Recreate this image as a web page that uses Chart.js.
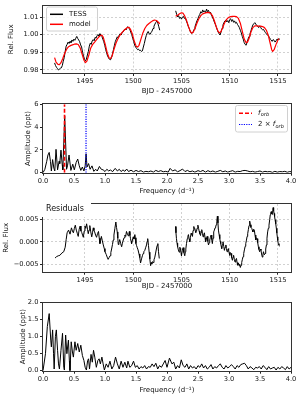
<!DOCTYPE html>
<html><head><meta charset="utf-8">
<script src="https://cdn.jsdelivr.net/npm/chart.js@4.4.0/dist/chart.umd.min.js"></script>
<style>
html,body{margin:0;padding:0;background:#fff;}
#wrap{position:relative;width:300px;height:400px;overflow:hidden;background:#fff;}
#wrap canvas{position:absolute;left:0;top:0;width:300px;height:400px;}
</style></head><body>
<div id="wrap">
<canvas id="c1" width="300" height="400"></canvas>
<canvas id="c2" width="300" height="400"></canvas>
<canvas id="c3" width="300" height="400"></canvas>
<canvas id="c4" width="300" height="400"></canvas>
</div>
<script>
// ---------------- DATA ----------------
const tessT1 = [1491.85,1491.95,1492.05,1492.15,1492.25,1492.35,1492.45,1492.55,1492.65,1492.75,1492.85,1492.95,1493.05,1493.15,1493.25,1493.35,1493.45,1493.55,1493.65,1493.75,1493.85,1493.95,1494.05,1494.15,1494.25,1494.35,1494.45,1494.55,1494.65,1494.75,1494.85,1494.95,1495.05,1495.15,1495.25,1495.35,1495.45,1495.55,1495.65,1495.75,1495.85,1495.95,1496.05,1496.15,1496.25,1496.35,1496.45,1496.55,1496.65,1496.75,1496.85,1496.95,1497.05,1497.15,1497.25,1497.35,1497.45,1497.55,1497.65,1497.75,1497.85,1497.95,1498.05,1498.15,1498.25,1498.35,1498.45,1498.55,1498.65,1498.75,1498.85,1498.95,1499.05,1499.15,1499.25,1499.35,1499.45,1499.55,1499.65,1499.75,1499.85,1499.95,1500.05,1500.15,1500.25,1500.35,1500.45,1500.55,1500.65,1500.75,1500.85,1500.95,1501.05,1501.15,1501.25,1501.35,1501.45,1501.55,1501.65,1501.75,1501.85,1501.95,1502.05,1502.15,1502.25,1502.35,1502.45,1502.55,1502.65,1502.75];
const tessF1 = [0.9840,0.9825,0.9815,0.9808,0.9800,0.9805,0.9810,0.9812,0.9825,0.9850,0.9870,0.9905,0.9935,0.9945,0.9958,0.9950,0.9962,0.9955,0.9970,0.9962,0.9975,0.9968,0.9980,0.9990,0.9978,0.9970,0.9960,0.9942,0.9930,0.9900,0.9880,0.9860,0.9852,0.9862,0.9885,0.9905,0.9935,0.9952,0.9945,0.9965,0.9972,0.9965,0.9985,0.9980,0.9995,1.0000,0.9992,1.0006,0.9998,0.9990,0.9975,0.9960,0.9940,0.9915,0.9895,0.9878,0.9868,0.9860,0.9858,0.9870,0.9890,0.9915,0.9940,0.9962,0.9975,0.9988,0.9980,0.9998,1.0005,0.9998,1.0012,1.0015,1.0025,1.0032,1.0028,1.0040,1.0045,1.0035,1.0030,1.0012,1.0000,0.9978,0.9962,0.9940,0.9930,0.9922,0.9915,0.9918,0.9910,0.9912,0.9905,0.9908,0.9930,0.9950,0.9975,0.9995,1.0010,1.0018,1.0005,1.0002,1.0012,1.0020,1.0035,1.0048,1.0060,1.0070,1.0078,1.0065,1.0045,1.0025];
const tessT2 = [1504.40,1504.50,1504.60,1504.70,1504.80,1504.90,1505.00,1505.10,1505.20,1505.30,1505.40,1505.50,1505.60,1505.70,1505.80,1505.90,1506.00,1506.10,1506.20,1506.30,1506.40,1506.50,1506.60,1506.70,1506.80,1506.90,1507.00,1507.10,1507.20,1507.30,1507.40,1507.50,1507.60,1507.70,1507.80,1507.90,1508.00,1508.10,1508.20,1508.30,1508.40,1508.50,1508.60,1508.70,1508.80,1508.90,1509.00,1509.10,1509.20,1509.30,1509.40,1509.50,1509.60,1509.70,1509.80,1509.90,1510.00,1510.10,1510.20,1510.30,1510.40,1510.50,1510.60,1510.70,1510.80,1510.90,1511.00,1511.10,1511.20,1511.30,1511.40,1511.50,1511.60,1511.70,1511.80,1511.90,1512.00,1512.10,1512.20,1512.30,1512.40,1512.50,1512.60,1512.70,1512.80,1512.90,1513.00,1513.10,1513.20,1513.30,1513.40,1513.50,1513.60,1513.70,1513.80,1513.90,1514.00,1514.10,1514.20,1514.30,1514.40,1514.50,1514.60,1514.70,1514.80,1514.90,1515.00,1515.10,1515.15];
const tessF2 = [1.0135,1.0115,1.0100,1.0108,1.0092,1.0098,1.0088,1.0100,1.0104,1.0092,1.0095,1.0078,1.0065,1.0048,1.0035,1.0020,1.0010,1.0008,1.0015,1.0030,1.0045,1.0062,1.0078,1.0090,1.0105,1.0115,1.0130,1.0122,1.0140,1.0128,1.0135,1.0125,1.0145,1.0130,1.0138,1.0122,1.0128,1.0112,1.0100,1.0088,1.0072,1.0060,1.0045,1.0028,1.0015,1.0005,0.9998,1.0015,1.0035,1.0055,1.0068,1.0078,1.0082,1.0072,1.0080,1.0068,1.0085,1.0090,1.0075,1.0085,1.0070,1.0078,1.0065,1.0070,1.0058,1.0050,1.0040,1.0025,1.0010,0.9990,0.9975,0.9955,0.9945,0.9940,0.9958,0.9975,0.9990,1.0005,1.0022,1.0040,1.0055,1.0062,1.0068,1.0060,1.0052,1.0048,1.0040,1.0050,1.0042,1.0032,1.0028,1.0030,1.0020,1.0012,1.0005,0.9998,0.9995,0.9985,0.9975,0.9970,0.9962,0.9972,0.9968,0.9958,0.9965,0.9975,0.9970,0.9978,0.9972];
const modelT1 = [1491.85,1492.0,1492.2,1492.35,1492.5,1492.7,1492.9,1493.1,1493.3,1493.5,1493.7,1493.9,1494.1,1494.3,1494.5,1494.7,1494.9,1495.05,1495.2,1495.4,1495.6,1495.8,1496.0,1496.2,1496.4,1496.6,1496.75,1496.9,1497.1,1497.3,1497.5,1497.65,1497.8,1498.0,1498.2,1498.4,1498.6,1498.8,1499.0,1499.2,1499.4,1499.55,1499.7,1499.9,1500.1,1500.3,1500.45,1500.6,1500.8,1501.0,1501.2,1501.4,1501.6,1501.8,1502.0,1502.2,1502.4,1502.6,1502.75];
const modelF1 = [0.9870,0.9845,0.9832,0.9830,0.9840,0.9865,0.9895,0.9918,0.9932,0.9938,0.9942,0.9946,0.9948,0.9944,0.9925,0.9890,0.9855,0.9842,0.9850,0.9885,0.9925,0.9945,0.9958,0.9972,0.9985,0.9995,0.9998,0.9985,0.9945,0.9898,0.9868,0.9866,0.9878,0.9915,0.9950,0.9975,0.9995,1.0010,1.0022,1.0032,1.0040,1.0042,1.0032,1.0005,0.9965,0.9935,0.9930,0.9940,0.9975,1.0010,1.0035,1.0052,1.0062,1.0070,1.0078,1.0083,1.0080,1.0070,1.0062];
const modelT2 = [1504.4,1504.6,1504.8,1505.0,1505.15,1505.3,1505.5,1505.7,1505.9,1506.05,1506.2,1506.4,1506.6,1506.8,1507.0,1507.2,1507.4,1507.6,1507.8,1508.0,1508.2,1508.4,1508.6,1508.8,1508.95,1509.1,1509.3,1509.5,1509.7,1509.9,1510.1,1510.3,1510.5,1510.7,1510.9,1511.1,1511.3,1511.5,1511.7,1511.85,1512.0,1512.2,1512.4,1512.6,1512.8,1513.0,1513.2,1513.4,1513.6,1513.8,1514.0,1514.2,1514.35,1514.45,1514.6,1514.8,1515.0,1515.1];
const modelF2 = [1.0105,1.0110,1.0118,1.0124,1.0122,1.0110,1.0085,1.0050,1.0020,1.0008,1.0012,1.0035,1.0065,1.0090,1.0108,1.0118,1.0122,1.0125,1.0126,1.0122,1.0108,1.0080,1.0045,1.0018,1.0010,1.0018,1.0045,1.0070,1.0088,1.0098,1.0102,1.0104,1.0104,1.0102,1.0092,1.0065,1.0020,0.9975,0.9955,0.9958,0.9978,1.0015,1.0040,1.0050,1.0050,1.0048,1.0048,1.0046,1.0040,1.0025,0.9995,0.9950,0.9915,0.9905,0.9915,0.9945,0.9970,0.9978];

const freqTess = [0,0.03,0.06,0.08,0.1,0.12,0.135,0.155,0.175,0.19,0.21,0.235,0.26,0.27,0.29,0.31,0.32,0.335,0.35,0.365,0.38,0.395,0.42,0.45,0.48,0.505,0.535,0.56,0.585,0.61,0.635,0.66,0.68,0.695,0.71,0.735,0.76,0.79,0.82,0.85,0.875,0.91,0.94,0.97,1.0,1.03,1.06,1.09,1.12,1.165,1.2,1.23,1.26,1.29,1.32,1.35,1.38,1.42,1.46,1.5,1.54,1.58,1.62,1.66,1.7,1.74,1.78,1.82,1.86,1.9,1.94,1.98,2.02,2.05,2.09,2.13,2.17,2.21,2.25,2.29,2.33,2.37,2.41,2.45,2.5,2.54,2.58,2.62,2.66,2.7,2.74,2.78,2.82,2.86,2.9,2.94,2.98,3.02,3.06,3.1,3.14,3.18,3.22,3.26,3.3,3.34,3.38,3.42,3.46,3.5,3.54,3.58,3.62,3.66,3.7,3.74,3.78,3.82,3.86,3.9,3.94,3.98,4.0];
const ampTess = [0,0.3,1.0,1.55,1.78,1.0,0.15,1.15,0.4,0.15,2.05,0.25,1.0,0.8,1.98,0.7,0.25,2.6,5.0,2.6,0.3,0.6,1.55,0.2,0.75,0.25,0.9,1.2,0.6,0.2,0.5,0.15,0.6,1.65,0.5,0.8,0.3,0.6,0.12,0.3,0.15,0.55,0.3,0.25,0.1,0.3,0.15,0.25,0.08,0.38,0.15,0.3,0.1,0.25,0.12,0.32,0.1,0.22,0.08,0.2,0.1,0.18,0.05,0.12,0.08,0.15,0.05,0.2,0.1,0.18,0.08,0.12,0.05,0.38,0.15,0.25,0.08,0.18,0.32,0.1,0.2,0.08,0.15,0.05,0.18,0.1,0.2,0.05,0.18,0.08,0.15,0.05,0.12,0.2,0.08,0.15,0.05,0.12,0.18,0.05,0.12,0.1,0.18,0.2,0.15,0.08,0.12,0.05,0.1,0.15,0.05,0.12,0.08,0.1,0.03,0.12,0.05,0.1,0.08,0.12,0.04,0.1,0.08];
const markerFreqs = [0.347, 0.694];
const markerLabels = ['f_orb', '2 \u00d7 f_orb'];

const resT1 = [1491.9,1492.05,1492.24,1492.4,1492.6,1492.8,1492.95,1493.05,1493.15,1493.3,1493.45,1493.6,1493.7,1493.8,1493.9,1494.0,1494.1,1494.2,1494.3,1494.4,1494.5,1494.58,1494.66,1494.75,1494.83,1494.92,1495.0,1495.08,1495.17,1495.26,1495.34,1495.42,1495.5,1495.6,1495.7,1495.78,1495.86,1495.93,1496.0,1496.1,1496.2,1496.3,1496.4,1496.48,1496.55,1496.62,1496.7,1496.8,1496.9,1497.0,1497.07,1497.2,1497.3,1497.4,1497.5,1497.6,1497.68,1497.76,1497.85,1497.93,1498.0,1498.1,1498.2,1498.27,1498.34,1498.4,1498.45,1498.52,1498.6,1498.7,1498.8,1498.88,1498.97,1499.05,1499.14,1499.22,1499.3,1499.4,1499.5,1499.55,1499.6,1499.66,1499.72,1499.78,1499.83,1499.92,1500.0,1500.08,1500.17,1500.22,1500.28,1500.34,1500.4,1500.5,1500.6,1500.68,1500.76,1500.86,1500.95,1501.03,1501.1,1501.2,1501.3,1501.38,1501.44,1501.5,1501.58,1501.65,1501.72,1501.8,1501.87,1501.93,1502.0,1502.07,1502.15,1502.24,1502.32,1502.4,1502.48,1502.55,1502.62,1502.7];
const resF1 = [-0.0036,-0.0033,-0.0031,-0.0030,-0.0025,-0.0022,-0.0012,0.0005,0.0020,0.0026,0.0017,0.0031,0.0024,0.0020,0.0030,0.0037,0.0026,0.0019,0.0012,0.0028,0.0035,0.0024,0.0021,0.0015,0.0010,0.0024,0.0035,0.0030,0.0040,0.0028,0.0018,0.0026,0.0036,0.0022,0.0011,0.0020,0.0031,0.0025,0.0022,0.0015,0.0010,0.0018,0.0023,0.0008,-0.0004,0.0003,0.0012,0.0002,-0.0007,-0.0015,-0.0022,-0.0028,-0.0034,-0.0039,-0.0035,-0.0031,-0.0024,-0.0016,-0.0006,0.0004,0.0015,0.0030,0.0044,0.0032,0.0022,0.0008,-0.0006,-0.0002,0.0005,-0.0004,-0.0011,-0.0003,0.0004,0.0009,0.0015,0.0012,0.0023,0.0017,0.0013,0.0018,0.0023,0.0014,0.0007,0.0001,-0.0004,0.0004,0.0011,0.0006,0.0016,0.0009,-0.0004,-0.0008,-0.0012,-0.0018,-0.0027,-0.0035,-0.0047,-0.0038,-0.0031,-0.0026,-0.0022,-0.0019,-0.0012,-0.0007,0.0001,0.0007,-0.0008,-0.0023,-0.0038,-0.0053,-0.0046,-0.0049,-0.0044,-0.0046,-0.0040,-0.0034,-0.0025,-0.0016,-0.0008,-0.0004,-0.0022,-0.0037];
const resT2 = [1504.38,1504.43,1504.48,1504.54,1504.6,1504.68,1504.76,1504.83,1504.9,1504.96,1505.0,1505.08,1505.17,1505.25,1505.34,1505.4,1505.45,1505.52,1505.6,1505.66,1505.72,1505.8,1505.86,1505.93,1506.0,1506.07,1506.14,1506.2,1506.28,1506.34,1506.4,1506.48,1506.55,1506.62,1506.7,1506.77,1506.83,1506.9,1506.97,1507.03,1507.1,1507.17,1507.24,1507.3,1507.38,1507.44,1507.5,1507.58,1507.66,1507.73,1507.8,1507.87,1507.93,1508.0,1508.07,1508.14,1508.2,1508.27,1508.34,1508.41,1508.48,1508.54,1508.6,1508.66,1508.72,1508.78,1508.83,1508.9,1508.97,1509.02,1509.07,1509.12,1509.17,1509.24,1509.3,1509.38,1509.45,1509.52,1509.6,1509.66,1509.72,1509.8,1509.86,1509.93,1510.0,1510.07,1510.14,1510.2,1510.28,1510.34,1510.4,1510.48,1510.55,1510.62,1510.7,1510.76,1510.83,1510.9,1510.97,1511.03,1511.1,1511.17,1511.24,1511.3,1511.38,1511.45,1511.52,1511.6,1511.66,1511.72,1511.8,1511.86,1511.93,1512.0,1512.07,1512.14,1512.2,1512.28,1512.34,1512.4,1512.48,1512.55,1512.62,1512.7,1512.76,1512.83,1512.9,1512.97,1513.03,1513.1,1513.17,1513.24,1513.3,1513.38,1513.44,1513.5,1513.58,1513.66,1513.73,1513.8,1513.86,1513.93,1514.0,1514.07,1514.14,1514.2,1514.25,1514.3,1514.35,1514.4,1514.45,1514.5,1514.55,1514.6,1514.65,1514.7,1514.77,1514.83,1514.88,1514.93,1514.98,1515.03,1515.1,1515.15];
const resF2 = [0.0034,0.0020,0.0007,-0.0003,-0.0011,-0.0018,-0.0023,-0.0012,-0.0016,-0.0025,-0.0031,-0.0020,-0.0013,-0.0024,-0.0031,-0.0022,-0.0016,-0.0004,0.0007,0.0012,0.0016,0.0006,0.0000,0.0010,0.0019,0.0016,0.0012,0.0025,0.0034,0.0029,0.0028,0.0020,0.0023,0.0030,0.0037,0.0030,0.0024,0.0018,0.0014,0.0021,0.0027,0.0019,0.0011,0.0016,0.0020,0.0009,0.0000,0.0006,0.0012,0.0001,-0.0007,-0.0002,0.0004,0.0010,0.0015,0.0005,-0.0004,0.0008,0.0022,0.0026,0.0031,0.0033,0.0038,0.0045,0.0057,0.0042,0.0026,0.0016,0.0007,0.0001,-0.0004,-0.0010,-0.0015,-0.0006,0.0000,-0.0010,-0.0019,-0.0012,-0.0007,-0.0015,-0.0022,-0.0017,-0.0015,-0.0024,-0.0030,-0.0024,-0.0026,-0.0035,-0.0041,-0.0034,-0.0030,-0.0039,-0.0045,-0.0040,-0.0037,-0.0046,-0.0052,-0.0047,-0.0053,-0.0050,-0.0057,-0.0052,-0.0046,-0.0040,-0.0033,-0.0026,-0.0018,-0.0010,-0.0004,0.0002,0.0012,0.0018,0.0027,0.0036,0.0046,0.0038,0.0032,0.0030,0.0026,0.0022,0.0028,0.0026,0.0015,0.0004,0.0009,0.0007,-0.0002,-0.0011,-0.0017,-0.0022,-0.0016,-0.0019,-0.0027,-0.0034,-0.0028,-0.0022,-0.0029,-0.0026,-0.0016,-0.0007,0.0008,0.0022,0.0030,0.0037,0.0049,0.0060,0.0065,0.0067,0.0062,0.0061,0.0069,0.0076,0.0069,0.0063,0.0056,0.0049,0.0040,0.0030,0.0020,0.0011,0.0003,-0.0004,-0.0007,-0.0010];

const freqRes = [0,0.04,0.07,0.1,0.125,0.135,0.155,0.17,0.18,0.2,0.215,0.235,0.25,0.265,0.29,0.315,0.335,0.345,0.365,0.385,0.41,0.425,0.435,0.455,0.475,0.49,0.515,0.535,0.56,0.585,0.61,0.635,0.66,0.68,0.7,0.72,0.735,0.75,0.775,0.795,0.815,0.835,0.86,0.885,0.905,0.925,0.95,0.97,0.99,1.02,1.05,1.08,1.11,1.14,1.17,1.2,1.23,1.26,1.29,1.32,1.35,1.37,1.4,1.43,1.46,1.49,1.52,1.55,1.58,1.61,1.64,1.67,1.7,1.73,1.76,1.79,1.82,1.85,1.88,1.91,1.94,1.97,2.0,2.04,2.08,2.11,2.14,2.17,2.2,2.23,2.26,2.29,2.32,2.35,2.38,2.41,2.44,2.47,2.5,2.53,2.56,2.59,2.62,2.65,2.68,2.71,2.74,2.77,2.8,2.83,2.86,2.89,2.92,2.95,2.98,3.01,3.04,3.07,3.1,3.13,3.16,3.19,3.22,3.25,3.28,3.31,3.34,3.37,3.4,3.43,3.46,3.49,3.52,3.55,3.58,3.61,3.64,3.67,3.7,3.73,3.76,3.79,3.82,3.85,3.88,3.91,3.94,3.97,4.0];
const ampRes = [0,0.5,1.3,1.68,0.9,0.7,1.2,0.5,0.05,1.0,1.2,0.6,0.2,0.05,0.6,1.1,0.1,0.02,1.05,0.5,0.9,0.3,0.0,0.85,0.55,0.4,0.85,0.6,0.8,0.55,0.75,0.45,0.3,0.1,0.02,0.3,0.35,0.05,0.48,0.25,0.6,0.4,0.1,0.3,0.35,0.2,0.4,0.2,0.02,0.2,0.1,0.28,0.05,0.15,0.4,0.2,0.05,0.28,0.1,0.25,0.08,0.28,0.1,0.15,0.28,0.1,0.15,0.05,0.12,0.08,0.15,0.05,0.12,0.1,0.2,0.12,0.22,0.05,0.15,0.1,0.2,0.3,0.1,0.37,0.2,0.25,0.05,0.15,0.08,0.32,0.15,0.1,0.2,0.05,0.15,0.08,0.12,0.05,0.15,0.1,0.2,0.08,0.15,0.05,0.1,0.18,0.05,0.12,0.08,0.15,0.2,0.1,0.05,0.15,0.08,0.12,0.18,0.12,0.05,0.15,0.1,0.18,0.2,0.22,0.15,0.05,0.12,0.08,0.03,0.1,0.08,0.12,0.05,0.15,0.1,0.03,0.12,0.05,0.08,0.1,0.02,0.1,0.05,0.12,0.08,0.03,0.12,0.05,0.1];

const bjdTicks = [1495,1500,1505,1510,1515];
const bjdTickLabels = ['1495','1500','1505','1510','1515'];
const fluxTicks = [0.98,0.99,1.00,1.01];
const fluxTickLabels = ['0.98','0.99','1.00','1.01'];
const freqTicks = [0,0.5,1,1.5,2,2.5,3,3.5,4];
const freqTickLabels = ['0.0','0.5','1.0','1.5','2.0','2.5','3.0','3.5','4.0'];
const amp1Ticks = [0,2,4,6];
const amp1TickLabels = ['0','2','4','6'];
const resTicks = [-0.005,0,0.005];
const resTickLabels = ['\u22120.005','0.000','0.005'];
const amp2Ticks = [0,0.5,1,1.5,2];
const amp2TickLabels = ['0.0','0.5','1.0','1.5','2.0'];

// ---------------- RENDER ----------------
const FAM = "'DejaVu Sans', sans-serif";
Chart.defaults.font.family = FAM;
Chart.defaults.color = '#111';
const TICK_FONT = {size: 6.7, family: FAM};
const TITLE_FONT = {size: 7, family: FAM};
const xy = (xs, ys) => xs.map((x, i) => ({x: x, y: ys[i]}));

function drawRich(ctx, text, x, y) {
  const parts = text.split('f_orb');
  let cx = x;
  ctx.textBaseline = 'middle'; ctx.textAlign = 'left'; ctx.fillStyle = '#111';
  parts.forEach((p, i) => {
    if (p) { ctx.font = "7px " + FAM; ctx.fillText(p, cx, y); cx += ctx.measureText(p).width; }
    if (i < parts.length - 1) {
      ctx.font = "italic 7px " + FAM; ctx.fillText('f', cx, y); cx += ctx.measureText('f').width + 0.3;
      ctx.font = "italic 5px " + FAM; ctx.fillText('orb', cx, y + 1.8); cx += ctx.measureText('orb').width;
    }
  });
}

function legendPlugin(box, items) {
  return {
    id: 'customLegend',
    afterDatasetsDraw(chart) {
      const ctx = chart.ctx;
      ctx.save();
      ctx.beginPath();
      ctx.roundRect(box.x + 0.5, box.y + 0.5, box.w, box.h, 2);
      ctx.fillStyle = 'rgba(255,255,255,0.85)'; ctx.fill();
      ctx.strokeStyle = '#d0d0d0'; ctx.lineWidth = 1; ctx.stroke();
      items.forEach(it => {
        const ds = chart.data.datasets[it.ds];
        ctx.beginPath();
        ctx.setLineDash(ds.borderDash || []);
        ctx.strokeStyle = ds.borderColor; ctx.lineWidth = it.lw;
        ctx.moveTo(box.x + it.lx0, it.y); ctx.lineTo(box.x + it.lx1, it.y); ctx.stroke();
        ctx.setLineDash([]);
        drawRich(ctx, ds.label, box.x + it.tx, it.y);
      });
      ctx.restore();
    }
  };
}

const framePlugin = {
  id: 'frame',
  afterDatasetsDraw(chart) {
    const {ctx, chartArea: ca} = chart;
    ctx.save();
    ctx.strokeStyle = '#333'; ctx.lineWidth = 1;
    const l = Math.round(ca.left) - 0.5, t = Math.round(ca.top) - 0.5;
    const r = Math.round(ca.right) + 0.5, b = Math.round(ca.bottom) + 0.5;
    ctx.strokeRect(l, t, r - l, b - t);
    ctx.restore();
  }
};

function panel(id, c) {
  const xh = c.xTitleY + 4.2 - c.bottom;
  const axis = (pos, ticks, labels, min, max, title, extra) => Object.assign({
    type: 'linear', position: pos, min: min, max: max,
    afterBuildTicks: s => { s.ticks = ticks.map(v => ({value: v})); },
    ticks: {autoSkip: false, maxRotation: 0, minRotation: 0, padding: 1.5, font: TICK_FONT, color: '#111',
            callback: (v, i) => labels[i]},
    grid: {display: true, drawOnChartArea: c.grid, color: '#c6c6c6', lineWidth: 0.8,
           drawTicks: true, tickLength: 3, tickColor: '#222', tickWidth: 1},
    border: {display: false, dash: [2, 2]},
    title: {display: true, text: title, font: TITLE_FONT, color: '#111'}
  }, extra);
  const cfg = {
    type: 'line',
    data: {datasets: c.datasets},
    options: {
      responsive: false, animation: false, devicePixelRatio: 1,
      layout: {padding: {left: 0, right: 300 - 291, top: c.top, bottom: 400 - (c.bottom + xh)}},
      plugins: {legend: {display: false}, tooltip: {enabled: false}},
      elements: {point: {radius: 0}, line: {tension: 0, borderCapStyle: 'butt', borderJoinStyle: 'round'}},
      scales: {
        x: axis('bottom', c.xTicks, c.xLabels, c.xMin, c.xMax, c.xTitle, {afterFit: s => { s.height = xh; }}),
        y: axis('left', c.yTicks, c.yLabels, c.yMin, c.yMax, c.yTitle, {afterFit: s => { s.width = 43; }})
      }
    },
    plugins: [framePlugin].concat(c.plugins || [])
  };
  cfg.options.scales.x.title.padding = {top: 0, bottom: 0};
  cfg.options.scales.y.title.padding = {top: c.yTitleX - 4.2, bottom: 0};
  const ch = new Chart(document.getElementById(id), cfg);
  // calibrate chart area to target
  for (let k = 0; k < 3; k++) {
    const ca = ch.chartArea;
    const dt = c.top - ca.top, db = ca.bottom - c.bottom, dr = ca.right - 291;
    if (Math.abs(dt) + Math.abs(db) + Math.abs(dr) < 0.05) break;
    const p = ch.options.layout.padding;
    ch.options.layout.padding = {left: p.left, right: p.right + dr, top: p.top + dt, bottom: p.bottom + db};
    ch.update('none');
  }
  return ch;
}

const blk = (d) => ({data: d, borderColor: '#000', borderWidth: 1, order: 2, fill: false});

// Panel 1: light curve
panel('c1', {
  top: 5, bottom: 73, xTitleY: 91, yTitleX: 11, grid: true,
  xMin: 1490.65, xMax: 1516.35, yMin: 0.9783, yMax: 1.0165,
  xTicks: bjdTicks, xLabels: bjdTickLabels, yTicks: fluxTicks, yLabels: fluxTickLabels,
  xTitle: 'BJD - 2457000', yTitle: 'Rel. Flux',
  datasets: [
    Object.assign(blk(xy(tessT1, tessF1)), {label: 'TESS'}),
    Object.assign(blk(xy(tessT2, tessF2)), {label: 'TESS'}),
    {label: 'model', data: xy(modelT1, modelF1), borderColor: '#ff0000', borderWidth: 1.2, order: 1},
    {label: 'model', data: xy(modelT2, modelF2), borderColor: '#ff0000', borderWidth: 1.2, order: 1}
  ],
  plugins: [legendPlugin({x: 46, y: 6.5, w: 51, h: 24}, [
    {ds: 0, y: 14.3, lx0: 4, lx1: 17, tx: 23, lw: 1.5},
    {ds: 2, y: 24.3, lx0: 4, lx1: 17, tx: 23, lw: 1.5}
  ])]
});

// Panel 2: periodogram of TESS data
panel('c2', {
  top: 104.3, bottom: 172.7, xTitleY: 191.5, yTitleX: 28, grid: false,
  xMin: 0, xMax: 4, yMin: 0, yMax: 6,
  xTicks: freqTicks, xLabels: freqTickLabels, yTicks: amp1Ticks, yLabels: amp1TickLabels,
  xTitle: 'Frequency (d\u207B\u00B9)', yTitle: 'Amplitude (ppt)',
  datasets: [
    Object.assign(blk(xy(freqTess, ampTess)), {label: 'TESS'}),
    {label: markerLabels[0], data: [{x: markerFreqs[0], y: 0}, {x: markerFreqs[0], y: 6}],
     borderColor: '#ff0000', borderWidth: 1.6, borderDash: [4, 2], order: 1},
    {label: markerLabels[1], data: [{x: markerFreqs[1], y: 0}, {x: markerFreqs[1], y: 6}],
     borderColor: '#0000ff', borderWidth: 1.2, borderDash: [1.2, 1.2], order: 1}
  ],
  plugins: [legendPlugin({x: 235, y: 105, w: 52, h: 26.5}, [
    {ds: 1, y: 113.3, lx0: 4, lx1: 17, tx: 23, lw: 1.5},
    {ds: 2, y: 124.5, lx0: 4, lx1: 17, tx: 23, lw: 1.2}
  ])]
});

// Panel 3: residuals
const residualsLabel = {
  id: 'resLabel',
  afterDatasetsDraw(chart) {
    const ctx = chart.ctx;
    ctx.save();
    ctx.fillStyle = '#fff';
    ctx.fillRect(42, 199, 49, 18);
    ctx.fillStyle = '#111'; ctx.font = '8px ' + FAM;
    ctx.textBaseline = 'middle'; ctx.textAlign = 'left';
    ctx.fillText('Residuals', 46, 209);
    ctx.restore();
  }
};
panel('c3', {
  top: 204, bottom: 271.7, xTitleY: 286.5, yTitleX: 6.5, grid: true,
  xMin: 1490.65, xMax: 1516.35, yMin: -0.00664, yMax: 0.0084,
  xTicks: bjdTicks, xLabels: bjdTickLabels, yTicks: resTicks, yLabels: resTickLabels,
  xTitle: 'BJD - 2457000', yTitle: 'Rel. Flux',
  datasets: [blk(xy(resT1, resF1)), blk(xy(resT2, resF2))],
  plugins: [residualsLabel]
});

// Panel 4: periodogram of residuals
panel('c4', {
  top: 302.7, bottom: 370.7, xTitleY: 390, yTitleX: 23, grid: false,
  xMin: 0, xMax: 4, yMin: 0, yMax: 2,
  xTicks: freqTicks, xLabels: freqTickLabels, yTicks: amp2Ticks, yLabels: amp2TickLabels,
  xTitle: 'Frequency (d\u207B\u00B9)', yTitle: 'Amplitude (ppt)',
  datasets: [blk(xy(freqRes, ampRes))]
});
</script>
</body></html>
